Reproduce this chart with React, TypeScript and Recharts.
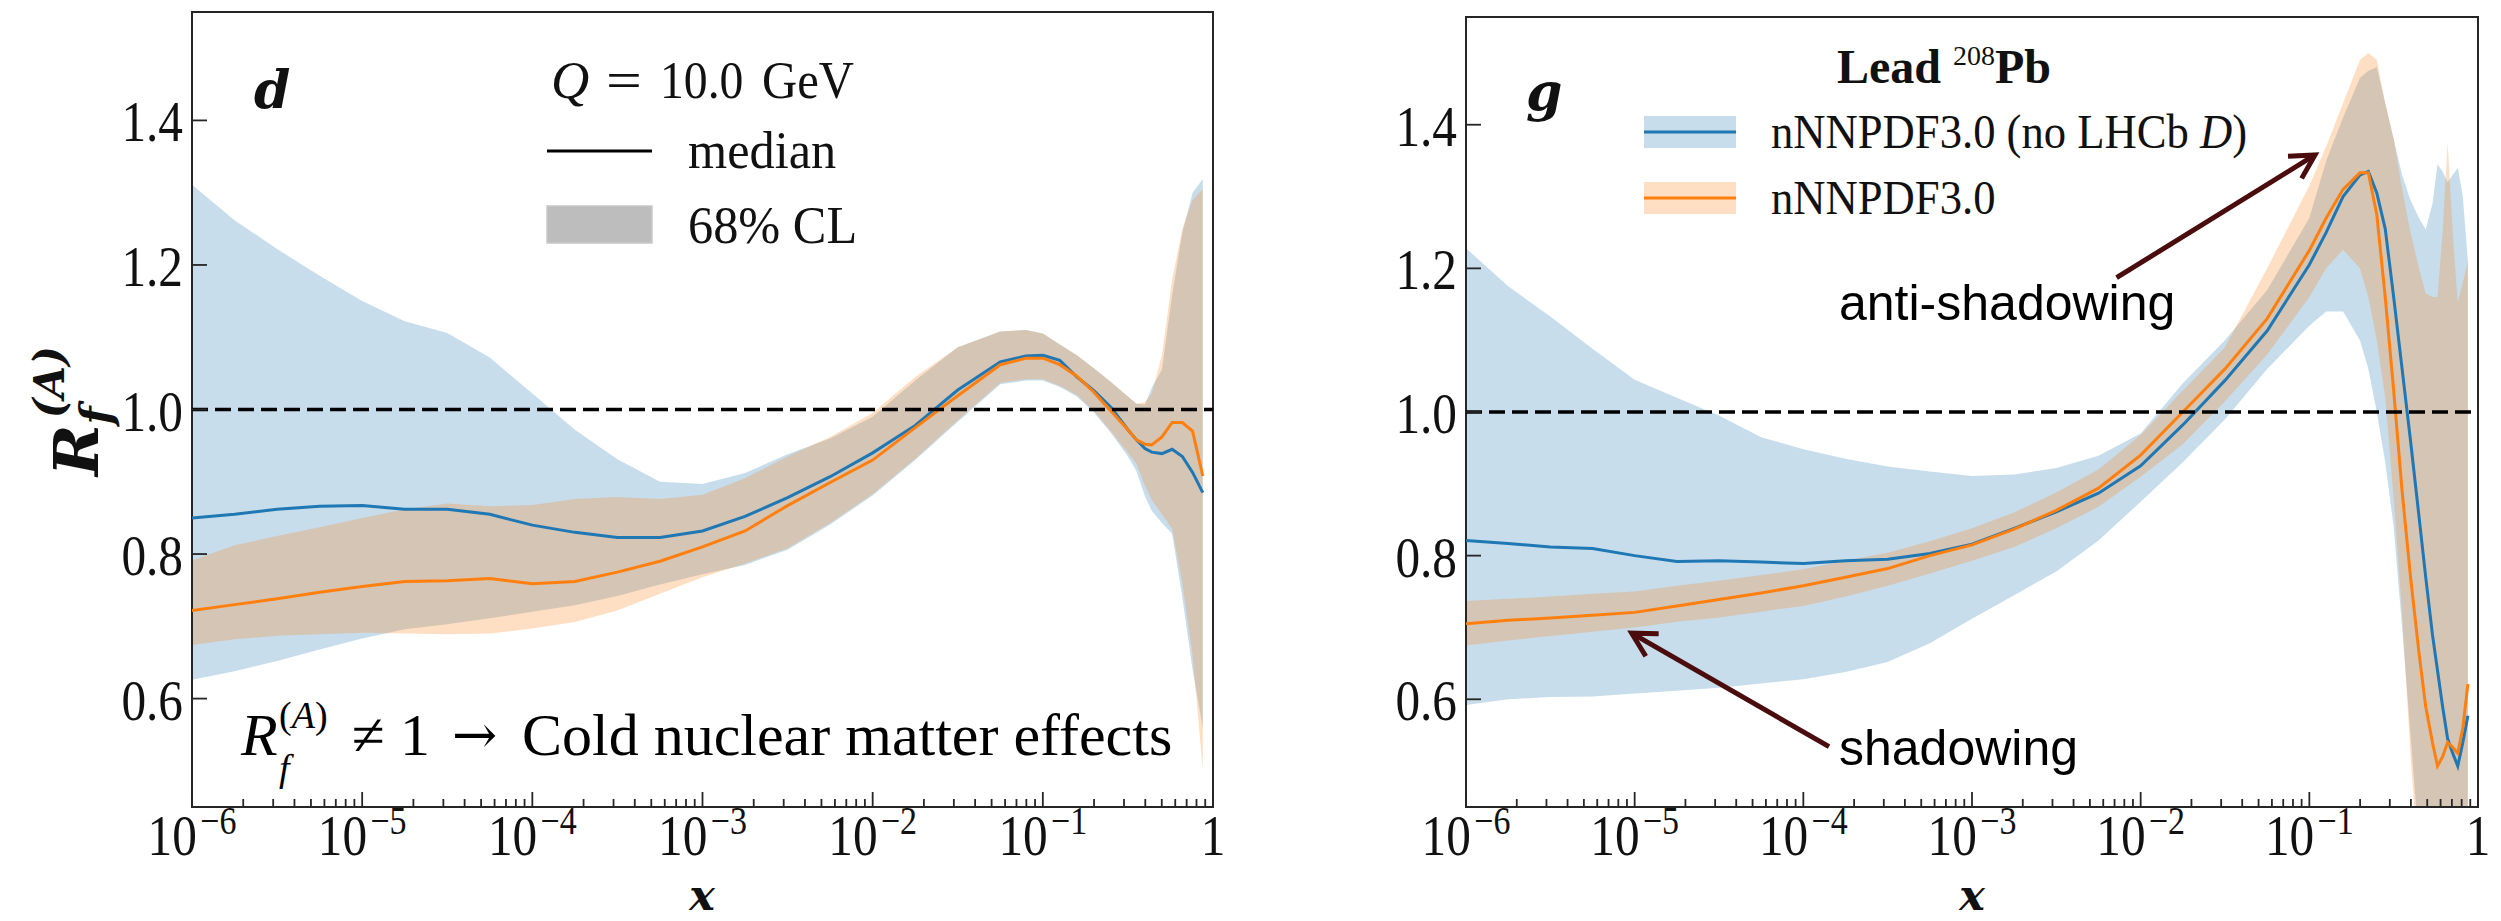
import React from "react";
import {
  ComposedChart,
  Area,
  Line,
  XAxis,
  YAxis,
  ReferenceLine,
  ReferenceArea,
} from "recharts";

// ---------- panel d (down quark), sampled at log10(x) ----------
const D_LOG_X = [-6, -5.75, -5.5, -5.25, -5, -4.75, -4.5, -4.25, -4, -3.75, -3.5, -3.25, -3, -2.75, -2.5, -2.25, -2, -1.75, -1.5, -1.25, -1.1, -1.0, -0.9, -0.8, -0.7, -0.6, -0.5, -0.45, -0.4, -0.36, -0.3, -0.24, -0.18, -0.12, -0.06];
// nNNPDF3.0 (no LHCb D)
const D_NOLHCB_MED = [0.850, 0.855, 0.862, 0.866, 0.867, 0.862, 0.862, 0.855, 0.840, 0.830, 0.823, 0.823, 0.832, 0.852, 0.878, 0.907, 0.940, 0.978, 1.027, 1.066, 1.074, 1.075, 1.068, 1.045, 1.026, 1.003, 0.972, 0.958, 0.946, 0.941, 0.939, 0.945, 0.935, 0.913, 0.885];
const D_NOLHCB_LO = [0.626, 0.638, 0.652, 0.668, 0.683, 0.696, 0.703, 0.711, 0.720, 0.729, 0.742, 0.758, 0.772, 0.785, 0.806, 0.841, 0.881, 0.930, 0.983, 1.035, 1.040, 1.040, 1.031, 1.018, 0.996, 0.968, 0.935, 0.915, 0.880, 0.860, 0.843, 0.828, 0.740, 0.640, 0.560];
const D_NOLHCB_HI = [1.311, 1.262, 1.222, 1.185, 1.150, 1.122, 1.106, 1.072, 1.022, 0.972, 0.931, 0.900, 0.897, 0.912, 0.938, 0.960, 0.990, 1.040, 1.086, 1.108, 1.110, 1.105, 1.090, 1.075, 1.057, 1.038, 1.018, 1.008, 1.007, 1.030, 1.055, 1.158, 1.245, 1.300, 1.319];
// nNNPDF3.0
const D_BASE_MED = [0.722, 0.730, 0.738, 0.747, 0.755, 0.762, 0.763, 0.766, 0.759, 0.762, 0.775, 0.790, 0.810, 0.832, 0.867, 0.899, 0.930, 0.975, 1.019, 1.062, 1.071, 1.071, 1.062, 1.046, 1.024, 0.998, 0.972, 0.958, 0.952, 0.951, 0.962, 0.982, 0.982, 0.970, 0.908];
const D_BASE_LO = [0.674, 0.682, 0.687, 0.689, 0.691, 0.690, 0.689, 0.690, 0.697, 0.706, 0.722, 0.745, 0.768, 0.787, 0.808, 0.843, 0.883, 0.932, 0.985, 1.037, 1.042, 1.042, 1.033, 1.020, 0.998, 0.970, 0.940, 0.925, 0.895, 0.875, 0.855, 0.835, 0.760, 0.660, 0.502];
const D_BASE_HI = [0.791, 0.812, 0.825, 0.837, 0.850, 0.862, 0.870, 0.866, 0.868, 0.876, 0.879, 0.876, 0.882, 0.905, 0.935, 0.962, 0.995, 1.045, 1.086, 1.108, 1.110, 1.105, 1.090, 1.075, 1.057, 1.038, 1.018, 1.008, 1.010, 1.022, 1.075, 1.180, 1.250, 1.290, 1.305];

// ---------- panel g (gluon), sampled at log10(x) ----------
const G_LOG_X = [-6, -5.75, -5.5, -5.25, -5, -4.75, -4.5, -4.25, -4, -3.75, -3.5, -3.25, -3, -2.75, -2.5, -2.25, -2, -1.75, -1.5, -1.25, -1.0, -0.9, -0.8, -0.7, -0.65, -0.6, -0.55, -0.5, -0.45, -0.4, -0.35, -0.31, -0.27, -0.24, -0.21, -0.18, -0.15, -0.12, -0.09, -0.06];
const G_NOLHCB_MED = [0.821, 0.817, 0.812, 0.810, 0.800, 0.792, 0.793, 0.791, 0.789, 0.793, 0.795, 0.803, 0.816, 0.838, 0.861, 0.887, 0.925, 0.982, 1.044, 1.113, 1.205, 1.250, 1.300, 1.330, 1.335, 1.305, 1.255, 1.160, 1.060, 0.960, 0.855, 0.770, 0.690, 0.640, 0.590, 0.545, 0.525, 0.507, 0.540, 0.577];
const G_NOLHCB_LO = [0.592, 0.600, 0.603, 0.604, 0.608, 0.612, 0.616, 0.622, 0.628, 0.638, 0.652, 0.678, 0.712, 0.745, 0.778, 0.821, 0.875, 0.930, 0.990, 1.060, 1.120, 1.140, 1.140, 1.100, 1.060, 1.000, 0.930, 0.840, 0.700, 0.550, 0.400, 0.300, 0.300, 0.300, 0.300, 0.300, 0.300, 0.300, 0.300, 0.300];
const G_NOLHCB_HI = [1.228, 1.175, 1.133, 1.088, 1.045, 1.020, 0.995, 0.965, 0.948, 0.935, 0.924, 0.917, 0.911, 0.913, 0.922, 0.939, 0.970, 1.040, 1.100, 1.170, 1.270, 1.350, 1.410, 1.465, 1.475, 1.480, 1.430, 1.380, 1.330, 1.295, 1.270, 1.254, 1.290, 1.345, 1.335, 1.320, 1.330, 1.340, 1.300, 1.210];
const G_BASE_MED = [0.705, 0.710, 0.713, 0.717, 0.721, 0.730, 0.739, 0.748, 0.758, 0.770, 0.782, 0.800, 0.815, 0.837, 0.863, 0.894, 0.940, 1.000, 1.060, 1.130, 1.225, 1.270, 1.310, 1.333, 1.333, 1.275, 1.160, 1.030, 0.890, 0.770, 0.665, 0.590, 0.540, 0.507, 0.520, 0.540, 0.533, 0.525, 0.560, 0.621];
const G_BASE_LO = [0.675, 0.682, 0.688, 0.694, 0.700, 0.708, 0.714, 0.722, 0.730, 0.743, 0.758, 0.775, 0.793, 0.812, 0.838, 0.868, 0.910, 0.955, 1.015, 1.080, 1.160, 1.200, 1.226, 1.200, 1.160, 1.100, 1.020, 0.880, 0.720, 0.520, 0.360, 0.300, 0.300, 0.300, 0.300, 0.300, 0.300, 0.300, 0.300, 0.300];
const G_BASE_HI = [0.737, 0.740, 0.743, 0.747, 0.750, 0.758, 0.765, 0.773, 0.781, 0.793, 0.804, 0.820, 0.838, 0.860, 0.888, 0.920, 0.968, 1.030, 1.090, 1.200, 1.315, 1.370, 1.430, 1.490, 1.500, 1.490, 1.430, 1.380, 1.310, 1.250, 1.200, 1.165, 1.160, 1.160, 1.250, 1.376, 1.250, 1.152, 1.180, 1.210];

// ---------- axes ----------
const X_DOMAIN = [1e-6, 1];
const X_MAJOR_EXP = [-6, -5, -4, -3, -2, -1, 0];
const Y_DOMAIN = [0.45, 1.55];
const Y_TICKS = [0.6, 0.8, 1.0, 1.2, 1.4];

// annotation arrows (data coordinates: tail, head)
const ANTI_SHADOW_ARROW = [{ x: 0.0072, y: 1.187 }, { x: 0.108, y: 1.358 }];
const SHADOW_ARROW = [{ x: 1.42e-4, y: 0.534 }, { x: 9.6e-6, y: 0.692 }];

const BLUE = "#1f77b4";
const ORANGE = "#ff7f0e";
const BAND_OPACITY = 0.25;
const FRAME = "#262626";
const INK = "#111111";
const MAROON = "#4a0c0c";
const SERIF = "'Liberation Serif', 'Times New Roman', serif";
const BOLD_MATH = "'DejaVu Serif', serif";
const SANS = "'Liberation Sans', Arial, sans-serif";

const X_TICKS: number[] = [];
X_MAJOR_EXP.forEach((e) => {
  X_TICKS.push(Math.pow(10, e));
  if (e < 0) for (let k = 2; k <= 9; k++) X_TICKS.push(k * Math.pow(10, e));
});

type Row = {
  x: number;
  nolhcb: number;
  nolhcbBand: [number, number];
  base: number;
  baseBand: [number, number];
};

function buildRows(
  logx: number[],
  nMed: number[], nLo: number[], nHi: number[],
  bMed: number[], bLo: number[], bHi: number[]
): Row[] {
  return logx.map((e, i) => ({
    x: Math.pow(10, e),
    nolhcb: nMed[i],
    nolhcbBand: [nLo[i], nHi[i]],
    base: bMed[i],
    baseBand: [bLo[i], bHi[i]],
  }));
}

const D_ROWS = buildRows(D_LOG_X, D_NOLHCB_MED, D_NOLHCB_LO, D_NOLHCB_HI, D_BASE_MED, D_BASE_LO, D_BASE_HI);
const G_ROWS = buildRows(G_LOG_X, G_NOLHCB_MED, G_NOLHCB_LO, G_NOLHCB_HI, G_BASE_MED, G_BASE_LO, G_BASE_HI);

const CHART_H = 921;
const PLOT_BOTTOM = 807;
const X_AXIS_H = CHART_H - PLOT_BOTTOM;

function XTick(props: any) {
  const { x, payload, plotBottom } = props;
  const v = Number(payload.value);
  const lg = Math.log10(v);
  const e = Math.round(lg);
  const major = Math.abs(lg - e) < 1e-6;
  return (
    <g>
      <line x1={x} x2={x} y1={plotBottom} y2={plotBottom - (major ? 15 : 8)} stroke={FRAME} strokeWidth={1.8} />
      {major && (
        <text
          transform={`translate(${x} 855) scale(0.85 1)`}
          textAnchor="middle"
          fontFamily={SERIF}
          fontSize={58}
          fill={INK}
        >
          {e === 0 ? (
            "1"
          ) : (
            <>
              <tspan>10</tspan>
              <tspan dx={4} dy={-21} fontSize={40}>{"\u2212" + Math.abs(e)}</tspan>
            </>
          )}
        </text>
      )}
    </g>
  );
}

function YTick(props: any) {
  const { y, payload, plotLeft } = props;
  return (
    <g>
      <line x1={plotLeft} x2={plotLeft + 15} y1={y} y2={y} stroke={FRAME} strokeWidth={1.8} />
      <text
        transform={`translate(${plotLeft - 9} ${y + 21}) scale(0.85 1)`}
        textAnchor="end"
        fontFamily={SERIF}
        fontSize={58}
        fill={INK}
      >
        {Number(payload.value).toFixed(1)}
      </text>
    </g>
  );
}

function Arrow(props: any) {
  const { x1, y1, x2, y2 } = props;
  const ang = Math.atan2(y2 - y1, x2 - x1);
  const len = 27;
  const spread = 0.5;
  const a1 = ang + Math.PI - spread;
  const a2 = ang + Math.PI + spread;
  const p1 = `${x2 + len * Math.cos(a1)},${y2 + len * Math.sin(a1)}`;
  const p2 = `${x2 + len * Math.cos(a2)},${y2 + len * Math.sin(a2)}`;
  return (
    <g>
      <line x1={x1} y1={y1} x2={x2} y2={y2} stroke={MAROON} strokeWidth={5} />
      <polyline points={`${p1} ${x2},${y2} ${p2}`} fill="none" stroke={MAROON} strokeWidth={5} />
    </g>
  );
}

type PanelProps = {
  rows: Row[];
  left: number;
  width: number;
  yAxisWidth: number;
  marginTop: number;
  marginRight: number;
  children?: React.ReactNode;
};

function Panel({ rows, left, width, yAxisWidth, marginTop, marginRight, children }: PanelProps) {
  return (
    <div style={{ position: "absolute", left, top: 0, width, height: CHART_H }}>
      <ComposedChart
        width={width}
        height={CHART_H}
        data={rows}
        margin={{ top: marginTop, right: marginRight, bottom: 0, left: 0 }}
      >
        <XAxis
          dataKey="x"
          type="number"
          scale="log"
          domain={X_DOMAIN}
          allowDataOverflow
          ticks={X_TICKS}
          interval={0}
          height={X_AXIS_H}
          axisLine={false}
          tickLine={false}
          tick={(p: any) => <XTick {...p} plotBottom={PLOT_BOTTOM} />}
        />
        <YAxis
          type="number"
          domain={Y_DOMAIN}
          allowDataOverflow
          ticks={Y_TICKS}
          interval={0}
          width={yAxisWidth}
          axisLine={false}
          tickLine={false}
          tick={(p: any) => <YTick {...p} plotLeft={yAxisWidth} />}
        />
        <Area
          dataKey="nolhcbBand"
          type="linear"
          stroke="none"
          fill={BLUE}
          fillOpacity={BAND_OPACITY}
          dot={false}
          activeDot={false}
          isAnimationActive={false}
        />
        <Area
          dataKey="baseBand"
          type="linear"
          stroke="none"
          fill={ORANGE}
          fillOpacity={BAND_OPACITY}
          dot={false}
          activeDot={false}
          isAnimationActive={false}
        />
        <Line dataKey="nolhcb" type="linear" stroke={BLUE} strokeWidth={3} dot={false} activeDot={false} isAnimationActive={false} />
        <Line dataKey="base" type="linear" stroke={ORANGE} strokeWidth={3} dot={false} activeDot={false} isAnimationActive={false} />
        <ReferenceLine y={1} stroke="#000" strokeWidth={3.5} strokeDasharray="16 7" />
        {children}
        <ReferenceArea
          x1={X_DOMAIN[0]}
          x2={X_DOMAIN[1]}
          y1={Y_DOMAIN[0]}
          y2={Y_DOMAIN[1]}
          fill="none"
          stroke={FRAME}
          strokeWidth={2}
          ifOverflow="visible"
        />
      </ComposedChart>
    </div>
  );
}

function Labels() {
  return (
    <svg
      width={2501}
      height={CHART_H}
      style={{ position: "absolute", left: 0, top: 0, pointerEvents: "none" }}
    >
      {/* panel d: tag and legend */}
      <text x={254} y={108} fontFamily={BOLD_MATH} fontWeight="bold" fontStyle="italic" fontSize={52} fill={INK}>d</text>
      <text x={551} y={98} fontFamily={SERIF} fontStyle="italic" fontSize={53} fill={INK}>Q</text>
      <text transform="translate(606 98) scale(1.2 1)" fontFamily={SERIF} fontSize={53} fill={INK}>=</text>
      <text transform="translate(660 98) scale(0.9 1)" fontFamily={SERIF} fontSize={53} fill={INK}>10.0</text>
      <text transform="translate(762 98) scale(0.92 1)" fontFamily={SERIF} fontSize={53} fill={INK}>GeV</text>
      <line x1={547} x2={652} y1={151} y2={151} stroke="#000" strokeWidth={3} />
      <text transform="translate(688 168) scale(0.95 1)" fontFamily={SERIF} fontSize={53} fill={INK}>median</text>
      <rect x={547} y={206} width={105} height={37} fill="#bdbdbd" stroke="#c8c8c8" strokeWidth={1.5} />
      <text transform="translate(688 243) scale(0.95 1)" fontFamily={SERIF} fontSize={53} fill={INK}>68% CL</text>

      {/* panel d: note on nuclear modification */}
      <text x={241} y={755} fontFamily={SERIF} fontStyle="italic" fontSize={60} fill="#000">R</text>
      <text x={279} y={781} fontFamily={SERIF} fontStyle="italic" fontSize={38} fill="#000">f</text>
      <text x={279} y={728} fontFamily={SERIF} fontSize={38} fill="#000">
        <tspan>(</tspan>
        <tspan fontStyle="italic">A</tspan>
        <tspan>)</tspan>
      </text>
      <text x={352} y={755} fontFamily={SERIF} fontSize={60} fill="#000">{"\u2260 1"}</text>
      <text x={452} y={753} fontFamily={BOLD_MATH} fontSize={54} fill="#000">{"\u2192"}</text>
      <text x={522} y={755} fontFamily={SERIF} fontSize={60} fill="#000">Cold nuclear matter effects</text>

      {/* y-axis title */}
      <text
        transform="translate(98 411) rotate(-90)"
        textAnchor="middle"
        fontFamily={BOLD_MATH}
        fontWeight="bold"
        fontStyle="italic"
        fontSize={62}
        fill={INK}
      >
        <tspan>R</tspan>
        <tspan fontSize={42} dy={13}>f</tspan>
        <tspan fontSize={42} dx={-12} dy={-47}>(A)</tspan>
      </text>
      <text x={702} y={910} textAnchor="middle" fontFamily={BOLD_MATH} fontWeight="bold" fontStyle="italic" fontSize={43} fill={INK}>x</text>

      {/* panel g: tag and legend */}
      <text x={1526} y={110} fontFamily={BOLD_MATH} fontWeight="bold" fontStyle="italic" fontSize={52} fill={INK}>g</text>
      <text x={1837} y={83} fontFamily={SERIF} fontWeight="bold" fontSize={48} fill={INK}>
        <tspan>{"Lead "}</tspan>
        <tspan fontSize={28} fontWeight="normal" dy={-18}>208</tspan>
        <tspan dy={18}>Pb</tspan>
      </text>
      <rect x={1644} y={116} width={92} height={32} fill={BLUE} fillOpacity={BAND_OPACITY} />
      <line x1={1644} x2={1736} y1={132} y2={132} stroke={BLUE} strokeWidth={3} />
      <text transform="translate(1771 148) scale(0.93 1)" fontFamily={SERIF} fontSize={48} fill={INK}>
        <tspan>{"nNNPDF3.0 (no LHCb "}</tspan>
        <tspan fontStyle="italic">D</tspan>
        <tspan>)</tspan>
      </text>
      <rect x={1644} y={182} width={92} height={32} fill={ORANGE} fillOpacity={BAND_OPACITY} />
      <line x1={1644} x2={1736} y1={198} y2={198} stroke={ORANGE} strokeWidth={3} />
      <text transform="translate(1771 214) scale(0.93 1)" fontFamily={SERIF} fontSize={48} fill={INK}>nNNPDF3.0</text>

      <text x={1839} y={320} fontFamily={SANS} fontSize={50} fill="#000">anti-shadowing</text>
      <text x={1839} y={765} fontFamily={SANS} fontSize={50} fill="#000">shadowing</text>
      <text x={1972} y={910} textAnchor="middle" fontFamily={BOLD_MATH} fontWeight="bold" fontStyle="italic" fontSize={43} fill={INK}>x</text>
    </svg>
  );
}

export default function App() {
  return (
    <div style={{ position: "absolute", left: 0, top: 0, width: 2501, height: CHART_H, background: "#fff" }}>
      <Panel rows={D_ROWS} left={0} width={1230} yAxisWidth={192} marginTop={12} marginRight={17} />
      <Panel rows={G_ROWS} left={1240} width={1261} yAxisWidth={226} marginTop={17} marginRight={23}>
        <ReferenceLine segment={ANTI_SHADOW_ARROW} ifOverflow="visible" shape={(p: any) => <Arrow {...p} />} />
        <ReferenceLine segment={SHADOW_ARROW} ifOverflow="visible" shape={(p: any) => <Arrow {...p} />} />
      </Panel>
      <Labels />
    </div>
  );
}
